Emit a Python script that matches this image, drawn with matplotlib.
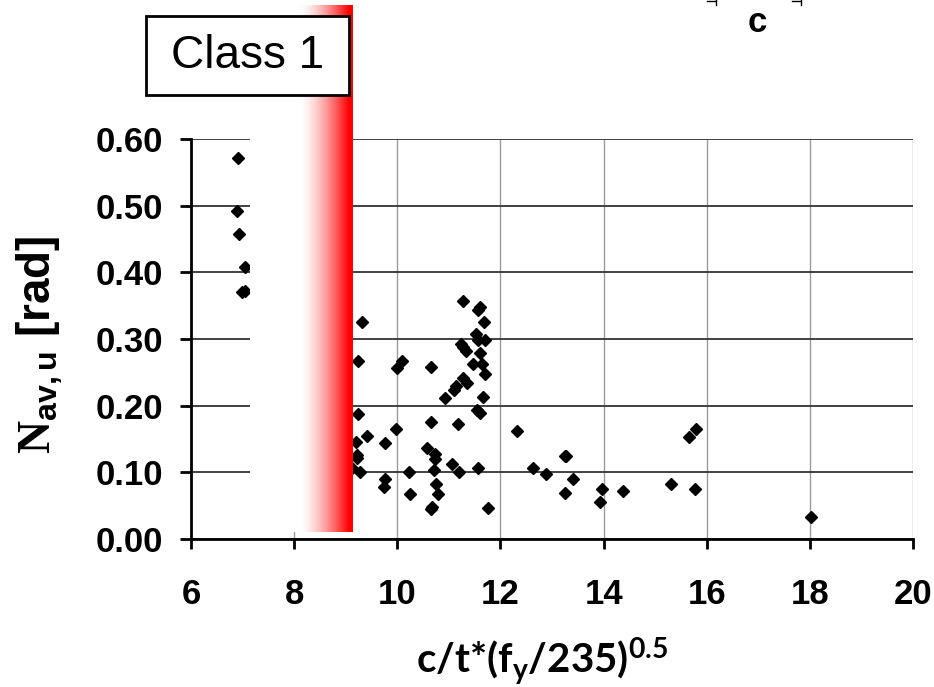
import matplotlib
matplotlib.use('Agg')
import matplotlib.pyplot as plt
import numpy as np
from matplotlib.patches import Rectangle
from matplotlib.lines import Line2D

plt.rcParams['mathtext.fontset'] = 'custom'
plt.rcParams['mathtext.rm'] = 'Liberation Serif:bold'
plt.rcParams['mathtext.sf'] = 'Liberation Sans:bold'
plt.rcParams['mathtext.bf'] = 'Lato:bold'
plt.rcParams['mathtext.it'] = 'Lato:bold'

# slenderness c/t*(fy/235)^0.5 and ultimate rotation
slender = [6.91, 6.89, 6.93, 7.05, 6.99, 7.05,
           9.13, 9.20, 9.21, 9.21, 9.23, 9.24, 9.28, 9.31, 9.42, 9.74,
           9.76, 9.77, 9.97, 10.00, 10.10, 10.23, 10.24, 10.58, 10.65, 10.65,
           10.66, 10.68, 10.72, 10.73, 10.74, 10.75, 10.78, 10.92, 11.06, 11.10,
           11.14, 11.17, 11.20, 11.23, 11.27, 11.27, 11.27, 11.33, 11.35, 11.47,
           11.52, 11.55, 11.56, 11.57, 11.57, 11.60, 11.60, 11.61, 11.65, 11.66,
           11.68, 11.71, 11.71, 11.76, 12.33, 12.64, 12.88, 13.26, 13.28, 13.25,
           13.41, 13.93, 13.96, 14.38, 15.30, 15.65, 15.78, 15.80, 18.02]
rotation = [0.571, 0.492, 0.457, 0.408, 0.370, 0.372,
            0.106, 0.146, 0.126, 0.121, 0.188, 0.267, 0.101, 0.325, 0.155, 0.078,
            0.090, 0.144, 0.165, 0.257, 0.267, 0.101, 0.067, 0.137, 0.258, 0.175,
            0.045, 0.048, 0.103, 0.120, 0.128, 0.083, 0.067, 0.212, 0.112, 0.224,
            0.229, 0.172, 0.100, 0.292, 0.357, 0.288, 0.242, 0.282, 0.234, 0.263,
            0.308, 0.194, 0.344, 0.298, 0.107, 0.348, 0.279, 0.189, 0.262, 0.213,
            0.325, 0.298, 0.247, 0.047, 0.162, 0.107, 0.097, 0.125, 0.124, 0.069,
            0.090, 0.056, 0.075, 0.072, 0.083, 0.153, 0.075, 0.165, 0.033]

xticks = [6, 8, 10, 12, 14, 16, 18, 20]
yticks = [0.0, 0.1, 0.2, 0.3, 0.4, 0.5, 0.6]

fig = plt.figure(figsize=(9.34, 6.87), dpi=100)
ax = fig.add_axes([0.2045, 0.2154, 0.7730, 0.5823])

ax.plot(slender, rotation, linestyle='none', marker='D', color='black',
        markersize=6.3, zorder=3)

# white-to-red band marking the class 1 limit
xs = np.linspace(7.14, 9.12, 400)
f = np.clip((xs - 8.1) / (9.04 - 8.1), 0, 1) ** 1.5
band = np.ones((1, len(xs), 3))
band[0, :, 1] = 1 - f
band[0, :, 2] = 1 - f
ax.imshow(band, extent=[7.14, 9.12, 0.0105, 0.80], aspect='auto',
          clip_on=False, zorder=5, interpolation='bilinear')

ax.set_xlim(6, 20)
ax.set_ylim(0, 0.6)
ax.set_xticks(xticks)
ax.set_yticks(yticks)
ax.set_yticklabels(['%.2f' % v for v in yticks])

ax.xaxis.grid(True, color='#9a9a9a', linewidth=1.0)
ax.yaxis.grid(True, color='#333333', linewidth=1.3)
ax.set_axisbelow(True)
for s in ['top', 'right']:
    ax.spines[s].set_visible(False)
for s in ['left', 'bottom']:
    ax.spines[s].set_linewidth(2)
    ax.spines[s].set_zorder(6)

ax.tick_params(axis='y', direction='out', length=8, width=2, pad=12,
               labelsize=25)
ax.tick_params(axis='x', direction='out', length=7, width=2, pad=21,
               labelsize=25)
for lab in ax.get_xticklabels() + ax.get_yticklabels():
    lab.set_fontfamily('Liberation Sans')
    lab.set_fontweight('bold')

fig.text(542 / 934, 1 - 673 / 687,
         r'c/t*(f$_{\mathbf{y}}$/235)$^{\mathbf{0.5}}$',
         ha='center', va='baseline', fontsize=29, fontfamily='Lato',
         fontweight='bold')
fig.text(40 / 934, 1 - 345 / 687, r'$\mathrm{N}_{\mathsf{av,u}}$ [rad]',
         rotation=90, ha='center', va='center', fontsize=33,
         fontfamily='Liberation Sans', fontweight='bold')

# label box
W, H = 934.0, 687.0
fig.patches.append(Rectangle((146 / W, 1 - 95 / H), 203 / W, 79 / H,
                             transform=fig.transFigure, facecolor='white',
                             edgecolor='black', linewidth=2, zorder=10))
fig.text(247.5 / W, 1 - 56 / H, 'Class 1', ha='center', va='center',
         fontsize=33, fontfamily='Liberation Sans', zorder=11)

# dimension mark for c
fig.text(757 / W, 1 - 22 / H, 'c', ha='center', va='center', fontsize=25,
         fontfamily='Liberation Sans', fontweight='bold')
for x0 in [716, 801]:
    fig.lines.append(Line2D([x0 / W, x0 / W], [1, 1 - 5 / H],
                            transform=fig.transFigure, color='black', lw=1))
    fig.lines.append(Line2D([(x0 - 9) / W, (x0 - 1) / W], [1 - 1 / H, 1 - 1 / H],
                            transform=fig.transFigure, color='black', lw=1))

fig.savefig('out.png', dpi=100)
